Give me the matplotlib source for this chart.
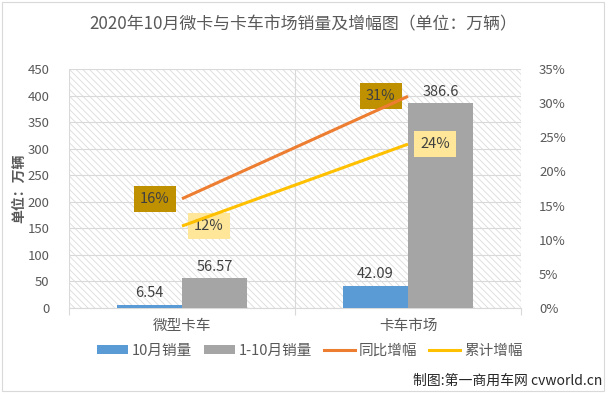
import matplotlib
matplotlib.use("Agg")
import matplotlib.pyplot as plt
from matplotlib.patches import Rectangle
from matplotlib.lines import Line2D
from matplotlib.patches import Patch
import numpy as np

plt.rcParams['font.family'] = ['Noto Sans CJK SC', 'DejaVu Sans']
plt.rcParams['hatch.linewidth'] = 0.6
plt.rcParams['hatch.color'] = '#dcdcdc'

categories = ['微型卡车', '卡车市场']
oct_sales = [6.54, 42.09]
ytd_sales = [56.57, 386.6]
yoy_growth = [16, 31]
ytd_growth = [12, 24]
series_names = ['10月销量', '1-10月销量', '同比增幅', '累计增幅']

c_blue = '#5b9bd5'
c_gray = '#a5a5a5'
c_orange = '#ed7d31'
c_yellow = '#ffc000'
txt = '#595959'

fig = plt.figure(figsize=(6.07, 3.93), dpi=100)
fig.patch.set_facecolor('white')
fig.add_artist(Rectangle((0.004, 0.006), 0.991, 0.988, transform=fig.transFigure,
                         fill=False, edgecolor='#d9d9d9', linewidth=0.8))

ax = fig.add_axes([69/607, 1-308/393, (521-69)/607, (308-69)/393])
ax.set_facecolor('white')
ax.patch.set_hatch('\\\\\\\\\\')
ax.patch.set_edgecolor('#dcdcdc')
ax.patch.set_linewidth(0)

x = np.arange(len(categories))
w = 0.287
b1 = ax.bar(x - w/2, oct_sales, width=w, color=c_blue, zorder=3)
b2 = ax.bar(x + w/2, ytd_sales, width=w, color=c_gray, zorder=3)
for rect, v in zip(b1, oct_sales):
    ax.annotate(f'{v:g}', (rect.get_x() + rect.get_width()/2, v), xytext=(0, 3),
                textcoords='offset points', ha='center', va='bottom', fontsize=10.5, color='#404040')
for rect, v in zip(b2, ytd_sales):
    ax.annotate(f'{v:g}', (rect.get_x() + rect.get_width()/2, v), xytext=(0, 3),
                textcoords='offset points', ha='center', va='bottom', fontsize=10.5, color='#404040')

ax.set_xlim(-0.5, 1.5)
ax.set_ylim(0, 450)
ax.set_yticks(np.arange(0, 451, 50))
ax.set_xticks(x)
ax.set_xticklabels(categories, fontsize=10.5, color=txt)
ax.set_xticks([-0.5, 0.5, 1.5], minor=True)
ax.tick_params(axis='x', which='major', length=0, pad=8)
ax.tick_params(axis='x', which='minor', length=5, color='#d9d9d9', width=0.8)
ax.tick_params(axis='y', length=0, pad=14, labelsize=9.5, labelcolor=txt)
ax.grid(axis='y', color='#d9d9d9', linewidth=0.8, zorder=1)
ax.grid(axis='x', which='minor', color='#d9d9d9', linewidth=0.8, zorder=1)
ax.set_axisbelow(True)
for s in ['top', 'right', 'left']:
    ax.spines[s].set_visible(False)
ax.spines['bottom'].set_color('#d9d9d9')
ax.set_ylabel('单位：万辆', fontsize=10, fontweight='bold', color=txt, labelpad=1)

ax2 = ax.twinx()
ax2.set_ylim(0, 35)
ax2.set_yticks(np.arange(0, 36, 5))
ax2.set_yticklabels([f'{v}%' for v in range(0, 36, 5)])
ax2.tick_params(axis='y', length=0, pad=13, labelsize=9.5, labelcolor=txt)
for s in ax2.spines.values():
    s.set_visible(False)

ax2.plot(x, yoy_growth, color=c_orange, linewidth=2.2, solid_capstyle='butt', zorder=4)
ax2.plot(x, ytd_growth, color=c_yellow, linewidth=2.2, solid_capstyle='butt', zorder=4)
for xi, v in zip(x, yoy_growth):
    ax2.annotate(f'{v}%', (xi, v), xytext=(-19.5, 0), textcoords='offset points',
                 ha='center', va='center', fontsize=10.5, color='#404040',
                 bbox=dict(boxstyle='square,pad=0.4', facecolor='#bf9000', edgecolor='none'))
for xi, v in zip(x, ytd_growth):
    ax2.annotate(f'{v}%', (xi, v), xytext=(19.5, 0), textcoords='offset points',
                 ha='center', va='center', fontsize=10.5, color='#404040',
                 bbox=dict(boxstyle='square,pad=0.4', facecolor='#ffe699', edgecolor='none'))

handles = [Patch(facecolor=c_blue), Patch(facecolor=c_gray),
           Line2D([], [], color=c_orange, linewidth=2.2),
           Line2D([], [], color=c_yellow, linewidth=2.2)]
fig.legend(handles, series_names, loc='center', bbox_to_anchor=(310/607, 1-351/393), ncol=4,
           frameon=False, fontsize=10.5, labelcolor=txt, handlelength=2.1, handleheight=0.55,
           handletextpad=0.3, columnspacing=0.8)

fig.text(0.5, 1-24/393, '2020年10月微卡与卡车市场销量及增幅图（单位：万辆）',
         ha='center', va='center', fontsize=12.2, color=txt)
fig.text(602/607, 1-381/393, '制图:第一商用车网 cvworld.cn', ha='right', va='center',
         fontsize=10, color='#262626')

fig.savefig('out.png', dpi=100)
